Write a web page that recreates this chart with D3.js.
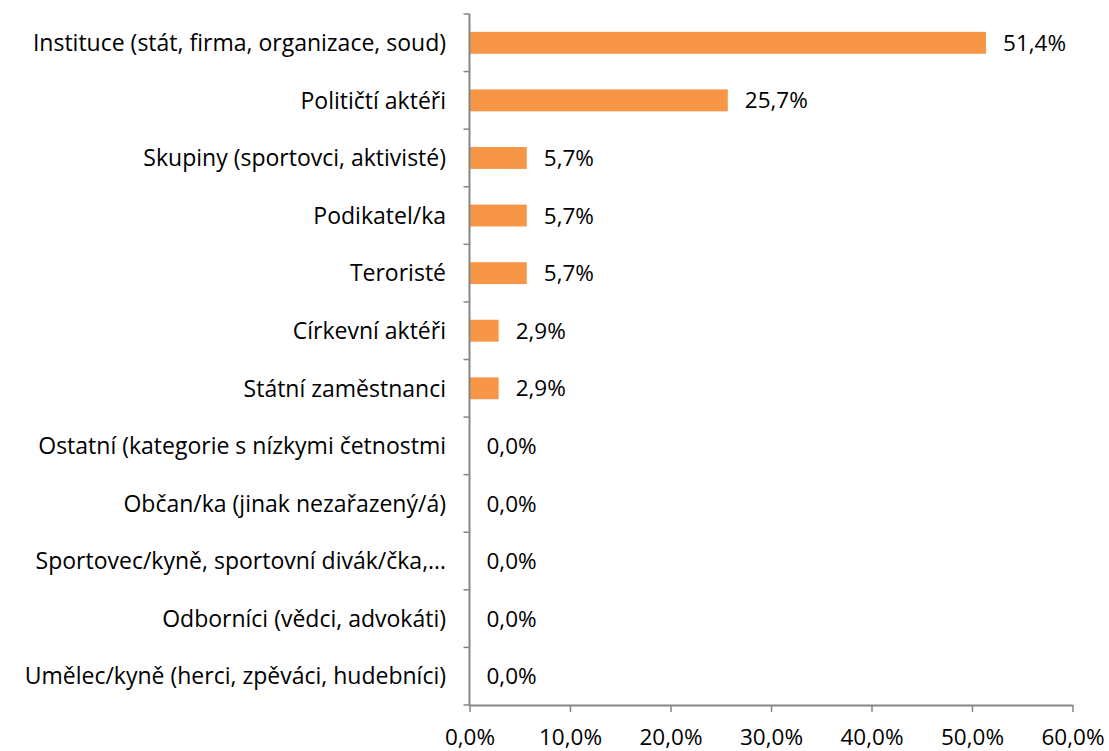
<!DOCTYPE html>
<html><head><meta charset="utf-8">
<script src="https://cdn.jsdelivr.net/npm/d3@7"></script>
<style>body{margin:0;background:#fff}svg{display:block}</style>
</head><body>
<svg id="chart" width="1109" height="751"></svg>
<script>
const categories = [
  "Instituce (stát, firma, organizace, soud)",
  "Političtí aktéři",
  "Skupiny (sportovci, aktivisté)",
  "Podikatel/ka",
  "Teroristé",
  "Církevní aktéři",
  "Státní zaměstnanci",
  "Ostatní (kategorie s nízkymi četnostmi",
  "Občan/ka (jinak nezařazený/á)",
  "Sportovec/kyně, sportovní divák/čka,…",
  "Odborníci (vědci, advokáti)",
  "Umělec/kyně (herci, zpěváci, hudebníci)"
];
const values = [51.4, 25.7, 5.7, 5.7, 5.7, 2.9, 2.9, 0, 0, 0, 0, 0];
const xTicks = [0, 10, 20, 30, 40, 50, 60];

const fmt = v => v.toFixed(1).replace(".", ",") + "%";
const font = "'Open Sans', sans-serif";
const fs = 23;
const svg = d3.select("#chart");
const pLeft = 469.5, pRight = 1072.5, pTop = 14, pBottom = 705;

const x = d3.scaleLinear().domain([0, 60]).range([pLeft, pRight]);
const y = d3.scaleBand().domain(categories).range([pTop, pBottom]).paddingInner(0.62).paddingOuter(0.31);

const axisColor = "#868686";

// bars
svg.append("g").selectAll("rect").data(values).join("rect")
  .attr("x", x(0))
  .attr("y", (d, i) => y(categories[i]))
  .attr("width", d => x(d) - x(0))
  .attr("height", y.bandwidth())
  .attr("fill", "#F79646");

// value labels
svg.append("g").selectAll("text").data(values).join("text")
  .attr("x", d => x(d) + 17)
  .attr("y", (d, i) => y(categories[i]) + y.bandwidth() / 2)
  .attr("dy", "0.36em")
  .attr("font-family", font).attr("font-size", 22.5).attr("fill", "#000")
  .text(d => fmt(d));

// y axis
const step = (pBottom - pTop) / categories.length;
const yAxisG = svg.append("g");
yAxisG.append("line").attr("x1", pLeft).attr("x2", pLeft).attr("y1", pTop).attr("y2", pBottom)
  .attr("stroke", axisColor).attr("stroke-width", 2);
yAxisG.selectAll("line.t").data(d3.range(categories.length + 1)).join("line").attr("class", "t")
  .attr("x1", pLeft - 6).attr("x2", pLeft).attr("y1", i => pTop + i * step).attr("y2", i => pTop + i * step)
  .attr("stroke", axisColor).attr("stroke-width", 1.5);
yAxisG.selectAll("text").data(categories).join("text")
  .attr("x", 446)
  .attr("y", d => y(d) + y.bandwidth() / 2)
  .attr("dy", "0.36em")
  .attr("text-anchor", "end")
  .attr("font-family", font).attr("font-size", fs).attr("fill", "#000")
  .text(d => d);

// x axis
const xAxisG = svg.append("g").attr("transform", `translate(0,${pBottom})`)
  .call(d3.axisBottom(x).tickValues(xTicks).tickSize(7).tickSizeOuter(0).tickFormat(d => fmt(d)));
xAxisG.select(".domain").attr("stroke", axisColor).attr("stroke-width", 2);
xAxisG.selectAll(".tick line").attr("stroke", axisColor).attr("stroke-width", 1.5);
xAxisG.selectAll(".tick text").attr("font-family", font).attr("font-size", 22.5).attr("fill", "#000")
  .attr("y", 39.5).attr("dy", 0);
</script>
</body></html>
